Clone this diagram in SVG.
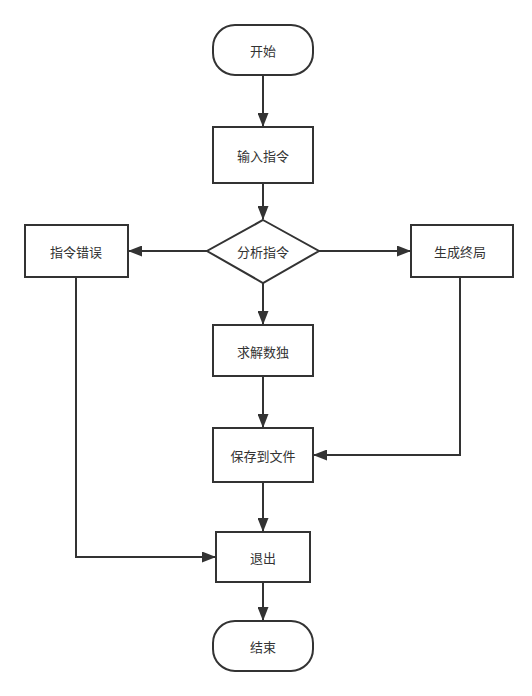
<svg xmlns="http://www.w3.org/2000/svg" width="532" height="696" viewBox="0 0 532 696">
<style>
.n{fill:#fff;stroke:#333;stroke-width:2}
.t{font-family:"Noto Sans CJK SC","Noto Sans",sans-serif;font-size:13px;fill:#333;text-anchor:middle;dominant-baseline:central}
.c{fill:none;stroke:#333;stroke-width:2}
</style>
<defs>
<marker id="a" viewBox="0 0 14 11" refX="13" refY="5.5" markerWidth="14" markerHeight="11" markerUnits="userSpaceOnUse" orient="auto">
<path d="M0,0 L14,5.5 L0,11 Z" fill="#333"/>
</marker>
</defs>
<rect width="532" height="696" fill="#fff"/>
<g id="connectors">
<path class="c" d="M263,75 V126" marker-end="url(#a)"/>
<path class="c" d="M263,183 V219" marker-end="url(#a)"/>
<path class="c" d="M207,251 H129" marker-end="url(#a)"/>
<path class="c" d="M319,251 H410" marker-end="url(#a)"/>
<path class="c" d="M263,283 V324" marker-end="url(#a)"/>
<path class="c" d="M263,376 V427" marker-end="url(#a)"/>
<path class="c" d="M460,277 V455 H314" marker-end="url(#a)"/>
<path class="c" d="M263,482 V531" marker-end="url(#a)"/>
<path class="c" d="M76,277 V557 H215" marker-end="url(#a)"/>
<path class="c" d="M263,582 V620" marker-end="url(#a)"/>
</g>
<g id="start"><rect class="n" x="213" y="25" width="100" height="50" rx="22"/><text class="t" x="263" y="50">开始</text></g>
<g id="input"><rect class="n" x="213" y="127" width="100" height="56"/><text class="t" x="263" y="155">输入指令</text></g>
<g id="analyze"><polygon class="n" points="263,220 319,251 263,283 207,251"/><text class="t" x="263" y="251">分析指令</text></g>
<g id="error"><rect class="n" x="25" y="225" width="103" height="52"/><text class="t" x="76" y="251">指令错误</text></g>
<g id="generate"><rect class="n" x="411" y="225" width="102" height="52"/><text class="t" x="460" y="251">生成终局</text></g>
<g id="solve"><rect class="n" x="213" y="325" width="100" height="51"/><text class="t" x="263" y="351">求解数独</text></g>
<g id="save"><rect class="n" x="213" y="428" width="100" height="54"/><text class="t" x="263" y="455">保存到文件</text></g>
<g id="exit"><rect class="n" x="216" y="532" width="94" height="50"/><text class="t" x="263" y="557">退出</text></g>
<g id="end"><rect class="n" x="213" y="621" width="100" height="50" rx="22"/><text class="t" x="263" y="646">结束</text></g>
</svg>
